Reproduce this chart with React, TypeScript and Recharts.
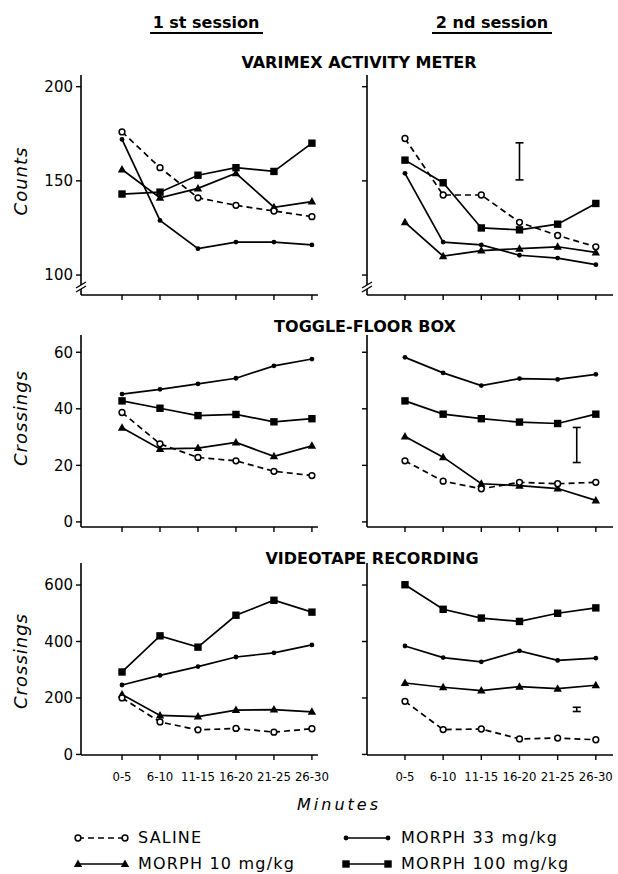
import React from "react";
import { ComposedChart, Line, XAxis, YAxis, Scatter, ErrorBar } from "recharts";

const minutes = ["0-5", "6-10", "11-15", "16-20", "21-25", "26-30"];

// Varimex activity meter (counts)
const varimexSaline1 = [176, 157, 141, 137, 134, 131];
const varimexM33_1 = [172, 129, 114, 117.5, 117.5, 116];
const varimexM10_1 = [156, 141, 146, 154, 136, 139];
const varimexM100_1 = [143, 144, 153, 157, 155, 170];
const varimexSaline2 = [172.5, 142.5, 142.5, 128, 121, 115];
const varimexM33_2 = [154, 117.5, 116, 110.5, 109, 105.5];
const varimexM10_2 = [128, 110, 113, 114, 115, 112];
const varimexM100_2 = [161, 149, 125, 124, 127, 138];

// Toggle-floor box (crossings)
const toggleSaline1 = [38.7, 27.6, 22.8, 21.6, 17.9, 16.4];
const toggleM33_1 = [45.2, 46.9, 48.8, 50.8, 55.2, 57.6];
const toggleM10_1 = [33.3, 25.8, 26.1, 28.1, 23.2, 26.9];
const toggleM100_1 = [42.8, 40.2, 37.6, 38, 35.4, 36.5];
const toggleSaline2 = [21.6, 14.4, 11.7, 14, 13.5, 14];
const toggleM33_2 = [58.2, 52.7, 48.2, 50.7, 50.4, 52.2];
const toggleM10_2 = [30.2, 22.9, 13.5, 12.8, 11.8, 7.6];
const toggleM100_2 = [42.8, 38.1, 36.5, 35.3, 34.8, 38.1];

// Videotape recording (crossings)
const videoSaline1 = [200, 115, 87, 92, 79, 91];
const videoM33_1 = [246, 280, 311, 345, 360, 388];
const videoM10_1 = [212, 138, 134, 157, 159, 151];
const videoM100_1 = [292, 420, 380, 493, 546, 504];
const videoSaline2 = [188, 88, 90, 55, 58, 52];
const videoM33_2 = [384, 343, 328, 367, 333, 341];
const videoM10_2 = [253, 238, 226, 240, 233, 245];
const videoM100_2 = [601, 514, 483, 471, 500, 519];

// SE bars shown in the 2nd session panels (x = position in category units)
const varimexErr = [{ x: 3, lo: 150.5, hi: 170.2 }];
const toggleErr = [{ x: 4.5, lo: 21, hi: 33.4 }];
const videoErr = [{ x: 4.5, lo: 152, hi: 167 }];

const varimexTicks = [100, 150, 200];
const toggleTicks = [0, 20, 40, 60];
const videoTicks = [0, 200, 400, 600];

const FONT = "'DejaVu Sans', Verdana, sans-serif";
const COND = "'DejaVu Sans Condensed', 'DejaVu Sans', sans-serif";

const series = [
  { key: "m33", name: "MORPH 33 mg/kg", shape: "dot", dash: undefined },
  { key: "m10", name: "MORPH 10 mg/kg", shape: "tri", dash: undefined },
  { key: "m100", name: "MORPH 100 mg/kg", shape: "square", dash: undefined },
  { key: "saline", name: "SALINE", shape: "open", dash: "6 4" },
];

function marker(shape: string, cx: number, cy: number, k: string) {
  if (cx == null || cy == null) return <g key={k} />;
  if (shape === "open")
    return <circle key={k} cx={cx} cy={cy} r={2.9} fill="#fff" stroke="#000" strokeWidth={1.5} />;
  if (shape === "dot") return <circle key={k} cx={cx} cy={cy} r={2.4} fill="#000" />;
  if (shape === "tri")
    return (
      <polygon
        key={k}
        points={`${cx},${cy - 4.5} ${cx - 4.2},${cy + 3} ${cx + 4.2},${cy + 3}`}
        fill="#000"
      />
    );
  return <rect key={k} x={cx - 3.7} y={cy - 3.7} width={7.4} height={7.4} fill="#000" />;
}

function buildRows(s: number[], m10: number[], m33: number[], m100: number[]) {
  return minutes.map((m, i) => ({ x: i, saline: s[i], m10: m10[i], m33: m33[i], m100: m100[i] }));
}

type PanelProps = {
  left: number;
  top: number;
  width: number;
  height: number;
  mTop: number;
  mRight: number;
  yWidth: number;
  xHeight: number;
  xDomain: [number, number];
  yDomain: [number, number];
  yTicks: number[];
  showY: boolean;
  showX: boolean;
  rows: any[];
  err?: { x: number; lo: number; hi: number }[];
};

function Panel(p: PanelProps) {
  const errData = (p.err || []).map((e) => ({ x: e.x, y: (e.lo + e.hi) / 2, e: (e.hi - e.lo) / 2 }));
  return (
    <div style={{ position: "absolute", left: p.left, top: p.top, width: p.width, height: p.height }}>
      <ComposedChart
        width={p.width}
        height={p.height}
        data={p.rows}
        margin={{ top: p.mTop, right: p.mRight, left: 0, bottom: 0 }}
      >
        <XAxis
          type="number"
          dataKey="x"
          domain={p.xDomain}
          ticks={[0, 1, 2, 3, 4, 5]}
          allowDataOverflow
          height={p.xHeight}
          tickFormatter={(v: number) => (p.showX ? minutes[v] : "")}
          axisLine={{ stroke: "#000", strokeWidth: 1.6 }}
          tickLine={{ stroke: "#000", strokeWidth: 1.4 }}
          tickSize={5}
          tickMargin={12}
          tick={{ fill: "#000", fontSize: 13, fontFamily: COND }}
          interval={0}
        />
        <YAxis
          type="number"
          domain={p.yDomain}
          ticks={p.yTicks}
          allowDataOverflow
          width={p.yWidth}
          tickFormatter={(v: number) => (p.showY ? String(v) : "")}
          axisLine={{ stroke: "#000", strokeWidth: 1.6 }}
          tickLine={{ stroke: "#000", strokeWidth: 1.4 }}
          tickSize={5}
          tickMargin={3}
          tick={{ fill: "#000", fontSize: 15, fontFamily: FONT }}
          interval={0}
        />
        {series.map((s) => (
          <Line
            key={s.key}
            dataKey={s.key}
            stroke="#000"
            strokeWidth={1.7}
            strokeDasharray={s.dash}
            isAnimationActive={false}
            dot={(d: any) => marker(s.shape, d.cx, d.cy, `${s.key}-${d.index}`)}
            activeDot={false}
          />
        ))}
        {errData.length > 0 && (
          <Scatter data={errData} dataKey="y" isAnimationActive={false} shape={() => <g />}>
            <ErrorBar dataKey="e" direction="y" width={4} stroke="#000" strokeWidth={1.6} />
          </Scatter>
        )}
      </ComposedChart>
    </div>
  );
}

const leftX: [number, number] = [-1.08, 5.16];
const rightX: [number, number] = [-0.995, 5.45];
const varimexDomain: [number, number] = [89.4, 206.2];
const toggleDomain: [number, number] = [-1.8, 66.1];
const videoDomain: [number, number] = [-2, 678];

function BreakMark({ x, y }: { x: number; y: number }) {
  return (
    <g>
      <polygon points={`${x - 5},${y + 3} ${x + 5},${y - 3} ${x + 5},${y - 7} ${x - 5},${y - 1}`} fill="#fff" />
      <line x1={x - 5} y1={y + 3} x2={x + 5} y2={y - 3} stroke="#000" strokeWidth={1.4} />
      <line x1={x - 5} y1={y - 1} x2={x + 5} y2={y - 7} stroke="#000" strokeWidth={1.4} />
    </g>
  );
}

function LegendItem({ x, y, len, s }: { x: number; y: number; len: number; s: (typeof series)[number] }) {
  return (
    <g>
      <line x1={x} y1={y} x2={x + len} y2={y} stroke="#000" strokeWidth={1.6} strokeDasharray={s.dash} />
      {marker(s.shape, x, y, "a")}
      {marker(s.shape, x + len, y, "b")}
      <text x={x + len + 13} y={y + 5} fontSize={16} fontFamily={FONT} letterSpacing={1.2}>
        {s.name}
      </text>
    </g>
  );
}

export default function App() {
  const find = (k: string) => series.find((s) => s.key === k)!;
  const titleStyle = { fontSize: 16, fontWeight: 700, fontFamily: FONT } as const;
  return (
    <div style={{ position: "absolute", left: 0, top: 0, width: 618, height: 874, background: "#fff" }}>
      <Panel left={0} top={60} width={340} height={250} mTop={15} mRight={22} yWidth={81} xHeight={15}
        xDomain={leftX} yDomain={varimexDomain} yTicks={varimexTicks} showY showX={false}
        rows={buildRows(varimexSaline1, varimexM10_1, varimexM33_1, varimexM100_1)} />
      <Panel left={300} top={60} width={318} height={250} mTop={15} mRight={5} yWidth={67} xHeight={15}
        xDomain={rightX} yDomain={varimexDomain} yTicks={varimexTicks} showY={false} showX={false}
        rows={buildRows(varimexSaline2, varimexM10_2, varimexM33_2, varimexM100_2)} err={varimexErr} />
      <Panel left={0} top={320} width={340} height={220} mTop={15} mRight={22} yWidth={81} xHeight={13}
        xDomain={leftX} yDomain={toggleDomain} yTicks={toggleTicks} showY showX={false}
        rows={buildRows(toggleSaline1, toggleM10_1, toggleM33_1, toggleM100_1)} />
      <Panel left={300} top={320} width={318} height={220} mTop={15} mRight={5} yWidth={67} xHeight={13}
        xDomain={rightX} yDomain={toggleDomain} yTicks={toggleTicks} showY={false} showX={false}
        rows={buildRows(toggleSaline2, toggleM10_2, toggleM33_2, toggleM100_2)} err={toggleErr} />
      <Panel left={0} top={550} width={340} height={240} mTop={13} mRight={22} yWidth={81} xHeight={35}
        xDomain={leftX} yDomain={videoDomain} yTicks={videoTicks} showY showX
        rows={buildRows(videoSaline1, videoM10_1, videoM33_1, videoM100_1)} />
      <Panel left={300} top={550} width={318} height={240} mTop={13} mRight={5} yWidth={67} xHeight={35}
        xDomain={rightX} yDomain={videoDomain} yTicks={videoTicks} showY={false} showX
        rows={buildRows(videoSaline2, videoM10_2, videoM33_2, videoM100_2)} err={videoErr} />

      <svg width={618} height={874} style={{ position: "absolute", left: 0, top: 0, pointerEvents: "none" }}>
        <text x={206} y={28} textAnchor="middle" fontSize={16} fontWeight={700} fontFamily={FONT}>1 st session</text>
        <line x1={150} y1={33} x2={263} y2={33} stroke="#000" strokeWidth={2.2} />
        <text x={492} y={28} textAnchor="middle" fontSize={16} fontWeight={700} fontFamily={FONT}>2 nd session</text>
        <line x1={432} y1={33} x2={552} y2={33} stroke="#000" strokeWidth={2.2} />

        <text x={359} y={68} textAnchor="middle" style={titleStyle}>VARIMEX ACTIVITY METER</text>
        <text x={365} y={332} textAnchor="middle" style={titleStyle}>TOGGLE-FLOOR BOX</text>
        <text x={372} y={564} textAnchor="middle" style={titleStyle}>VIDEOTAPE RECORDING</text>

        <text transform="translate(27,181) rotate(-90)" textAnchor="middle" fontSize={18} fontStyle="italic" fontFamily={FONT} letterSpacing={1}>Counts</text>
        <text transform="translate(27,418) rotate(-90)" textAnchor="middle" fontSize={18} fontStyle="italic" fontFamily={FONT} letterSpacing={1}>Crossings</text>
        <text transform="translate(27,661) rotate(-90)" textAnchor="middle" fontSize={18} fontStyle="italic" fontFamily={FONT} letterSpacing={1}>Crossings</text>

        <BreakMark x={81} y={289} />
        <BreakMark x={367} y={289} />

        <text x={339} y={810} textAnchor="middle" fontSize={16} fontStyle="italic" fontFamily={FONT} letterSpacing={3}>Minutes</text>

        <LegendItem x={78} y={838} len={47} s={find("saline")} />
        <LegendItem x={78} y={864} len={47} s={find("m10")} />
        <LegendItem x={346} y={838} len={42} s={find("m33")} />
        <LegendItem x={346} y={864} len={42} s={find("m100")} />
      </svg>
    </div>
  );
}
